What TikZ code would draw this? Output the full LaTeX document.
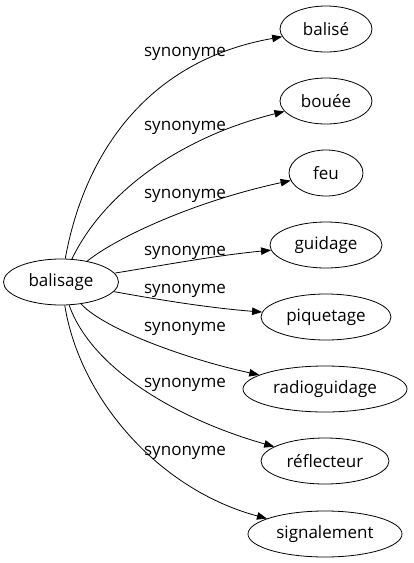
\documentclass[tikz,border=0pt]{standalone}
\usepackage{fontspec}
\setmainfont{Open Sans}
\usetikzlibrary{shapes.geometric,arrows.meta}
\tikzset{
  word/.style={ellipse,draw,line width=0.8pt,inner sep=0pt,font=\fontsize{17}{20}\selectfont},
  rel/.style={line width=0.8pt,-{Triangle[length=10pt,width=7.5pt]}},
  lab/.style={anchor=base,inner sep=0pt,font=\fontsize{17}{20}\selectfont}
}
\begin{document}
\begin{tikzpicture}[x=1pt,y=-1pt]
\useasboundingbox (0,0) rectangle (413,563);
\node[word,minimum width=115pt,minimum height=46pt] (b) at (61,282) {balisage};
\node[word,minimum width=92pt,minimum height=46pt] (n1) at (326,29) {balisé};
\node[word,minimum width=92pt,minimum height=46pt] (n2) at (326,101) {bouée};
\node[word,minimum width=74pt,minimum height=46pt] (n3) at (326,173) {feu};
\node[word,minimum width=112pt,minimum height=46pt] (n4) at (326,245) {guidage};
\node[word,minimum width=130pt,minimum height=46pt] (n5) at (326,317) {piquetage};
\node[word,minimum width=164pt,minimum height=46pt] (n6) at (325,389) {radioguidage};
\node[word,minimum width=128pt,minimum height=46pt] (n7) at (325,461) {réflecteur};
\node[word,minimum width=154pt,minimum height=46pt] (n8) at (325,534) {signalement};
\draw[rel] (b) .. controls (85,150) and (150,60) .. (n1);
\draw[rel] (b) .. controls (100,200) and (170,140) .. (n2);
\draw[rel] (b) .. controls (120,235) and (200,200) .. (n3);
\draw[rel] (b) .. controls (170,264) and (220,255) .. (n4);
\draw[rel] (b) .. controls (160,300) and (210,308) .. (n5);
\draw[rel] (b) .. controls (105,330) and (190,360) .. (n6);
\draw[rel] (b) .. controls (92,370) and (180,420) .. (n7);
\draw[rel] (b) .. controls (80,400) and (160,490) .. (n8);
\node[lab] (l1) at (185,56) {synonyme};
\node[lab] (l2) at (185,130) {synonyme};
\node[lab] (l3) at (185,198) {synonyme};
\node[lab] (l4) at (185,255) {synonyme};
\node[lab] (l5) at (185,293) {synonyme};
\node[lab] (l6) at (185,331) {synonyme};
\node[lab] (l7) at (185,387) {synonyme};
\node[lab] (l8) at (185,455) {synonyme};
\end{tikzpicture}
\end{document}
